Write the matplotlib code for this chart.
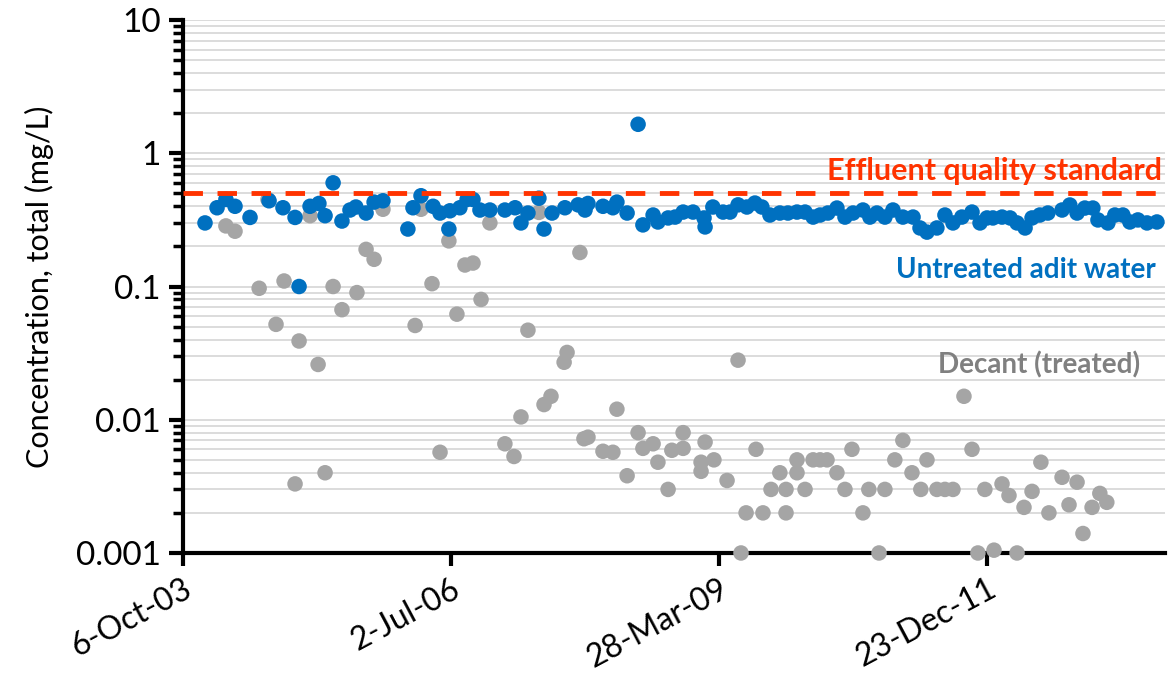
import datetime as dt
import numpy as np
import matplotlib
matplotlib.use("Agg")
import matplotlib.pyplot as plt
from matplotlib.ticker import FixedLocator, LogLocator, FuncFormatter, NullFormatter

# dates are Excel serial day numbers, values in mg/L
adit_dates = [37982, 38027, 38060, 38094, 38150, 38221, 38273, 38318, 38333, 38374,
              38407, 38430, 38460, 38493, 38523, 38545, 38583, 38613, 38646, 38739,
              38758, 38788, 38833, 38859, 38892, 38896, 38933, 38960, 38982, 39008,
              39045, 39101, 39139, 39161, 39187, 39228, 39247, 39277, 39325, 39374,
              39400, 39411, 39467, 39504, 39519, 39557, 39598, 39616, 39654, 39672,
              39710, 39736, 39766, 39803, 39844, 39848, 39877, 39915, 39941, 39971,
              40004, 40034, 40060, 40090, 40127, 40157, 40191, 40221, 40251, 40277,
              40306, 40340, 40370, 40400, 40437, 40463, 40489, 40519, 40549, 40586,
              40624, 40650, 40676, 40713, 40743, 40773, 40806, 40844, 40874, 40900,
              40922, 40956, 40986, 41012, 41042, 41068, 41097, 41127, 41180, 41209,
              41236, 41265, 41295, 41314, 41351, 41377, 41407, 41433, 41463, 41497,
              41534]
adit_conc = [0.30, 0.39, 0.45, 0.40, 0.33, 0.44, 0.39, 0.33, 0.10, 0.40,
             0.42, 0.34, 0.60, 0.31, 0.375, 0.395, 0.356, 0.43, 0.44, 0.27,
             0.39, 0.48, 0.40, 0.356, 0.27, 0.37, 0.39, 0.45, 0.45, 0.375,
             0.375, 0.375, 0.39, 0.30, 0.356, 0.46, 0.27, 0.356, 0.39, 0.41,
             0.375, 0.42, 0.40, 0.39, 0.43, 0.356, 1.65, 0.29, 0.344, 0.305,
             0.327, 0.332, 0.362, 0.362, 0.327, 0.28, 0.395, 0.362, 0.362, 0.41,
             0.395, 0.423, 0.395, 0.344, 0.356, 0.356, 0.362, 0.362, 0.332, 0.344,
             0.356, 0.388, 0.332, 0.356, 0.375, 0.332, 0.356, 0.332, 0.375, 0.332,
             0.332, 0.275, 0.256, 0.275, 0.344, 0.30, 0.332, 0.362, 0.30, 0.327,
             0.327, 0.332, 0.327, 0.30, 0.275, 0.327, 0.344, 0.356, 0.375, 0.409,
             0.356, 0.388, 0.388, 0.316, 0.30, 0.344, 0.344, 0.305, 0.316, 0.30,
             0.305]

decant_dates = [38060, 38094, 38184, 38217, 38247, 38277, 38318, 38333, 38374, 38404,
                38430, 38460, 38493, 38549, 38583, 38613, 38646, 38766, 38788, 38829,
                38859, 38892, 38922, 38952, 38982, 39012, 39045, 39101, 39135, 39161,
                39187, 39228, 39247, 39273, 39322, 39333, 39381, 39396, 39411, 39467,
                39504, 39519, 39557, 39598, 39616, 39654, 39672, 39710, 39724, 39766,
                39766, 39833, 39833, 39848, 39881, 39930, 39971, 39982, 40001, 40038,
                40064, 40094, 40127, 40150, 40150, 40191, 40191, 40221, 40251, 40277,
                40303, 40340, 40370, 40396, 40437, 40459, 40497, 40519, 40556, 40586,
                40620, 40653, 40676, 40713, 40743, 40773, 40814, 40844, 40866, 40892,
                40926, 40956, 40982, 41012, 41038, 41068, 41101, 41131, 41180, 41206,
                41236, 41258, 41292, 41321, 41347]
decant_conc = [0.285, 0.26, 0.097, 0.45, 0.052, 0.11, 0.0033, 0.039, 0.34, 0.026,
               0.004, 0.10, 0.067, 0.09, 0.19, 0.16, 0.38, 0.051, 0.38, 0.105,
               0.0057, 0.22, 0.062, 0.145, 0.15, 0.08, 0.30, 0.0066, 0.0053, 0.0105,
               0.047, 0.36, 0.013, 0.015, 0.027, 0.032, 0.18, 0.0072, 0.0074, 0.0058,
               0.0057, 0.012, 0.0038, 0.008, 0.0061, 0.0066, 0.0048, 0.003, 0.0059, 0.008,
               0.0061, 0.0048, 0.0041, 0.0068, 0.005, 0.0035, 0.028, 0.001, 0.002, 0.006,
               0.002, 0.003, 0.004, 0.003, 0.002, 0.005, 0.004, 0.003, 0.005, 0.005,
               0.005, 0.004, 0.003, 0.006, 0.002, 0.003, 0.001, 0.003, 0.005, 0.007,
               0.004, 0.003, 0.005, 0.003, 0.003, 0.003, 0.015, 0.006, 0.001, 0.003,
               0.00105, 0.0033, 0.0027, 0.001, 0.0022, 0.0029, 0.0048, 0.002, 0.0037, 0.0023,
               0.0034, 0.0014, 0.0022, 0.0028, 0.0024]

standard = 0.5
xtick_dates = [37900, 38900, 39900, 40900]
x_range = (37900, 41564)
y_range = (0.001, 10)

BLUE = "#0070C0"
GREY = "#A5A5A5"
RED = "#FF3300"

plt.rcParams['font.family'] = ['Lato', 'DejaVu Sans']


def excel_date(serial, pos=None):
    d = dt.date(1899, 12, 30) + dt.timedelta(days=int(round(serial)))
    return str(d.day) + "-" + d.strftime("%b-%y")


fig = plt.figure(figsize=(11.68, 6.86), dpi=100)
ax = fig.add_axes([0.1567, 0.1939, 0.8407, 0.7769])

ax.set_yscale('log')
ax.set_xlim(*x_range)
ax.set_ylim(*y_range)

ax.yaxis.set_major_locator(LogLocator(base=10, numticks=10))
ax.yaxis.set_minor_locator(LogLocator(base=10, subs=np.arange(2, 10), numticks=10))
ax.yaxis.set_minor_formatter(NullFormatter())
ax.yaxis.set_major_formatter(FuncFormatter(lambda v, p: ('%g' % v)))
ax.grid(True, which='both', axis='y', color='#D9D9D9', linewidth=1.3, zorder=0)
ax.set_axisbelow(True)

ax.xaxis.set_major_locator(FixedLocator(xtick_dates))
ax.xaxis.set_major_formatter(FuncFormatter(excel_date))

for s in ['top', 'right']:
    ax.spines[s].set_visible(False)
for s in ['left', 'bottom']:
    ax.spines[s].set_linewidth(3)
    ax.spines[s].set_zorder(2)

ax.tick_params(axis='y', which='major', length=10, width=3, labelsize=24, pad=6)
ax.tick_params(axis='y', which='minor', length=7, width=2.5)
ax.tick_params(axis='x', which='major', length=9, width=3, labelsize=23, pad=6)
plt.setp(ax.get_xticklabels(), rotation=28, ha='right', rotation_mode='anchor')

ax.scatter(decant_dates, decant_conc, s=125, color=GREY, edgecolors='none', zorder=3, clip_on=False)
ax.scatter(adit_dates, adit_conc, s=125, color=BLUE, edgecolors='none', zorder=4, clip_on=False)
ax.axhline(standard, color=RED, linewidth=3.5, dashes=(4, 3), zorder=5)

ax.text(41553, 0.74, "Effluent quality standard", color=RED, fontsize=22, fontweight='bold',
        ha='right', va='center')
ax.text(41530, 0.133, "Untreated adit water", color=BLUE, fontsize=20, fontweight='bold',
        ha='right', va='center')
ax.text(41471, 0.0258, "Decant (treated)", color="#808080", fontsize=20, fontweight='bold',
        ha='right', va='center')

ax.set_ylabel("Concentration, total (mg/L)", fontsize=22, labelpad=16)

fig.savefig("out.png", dpi=100)
